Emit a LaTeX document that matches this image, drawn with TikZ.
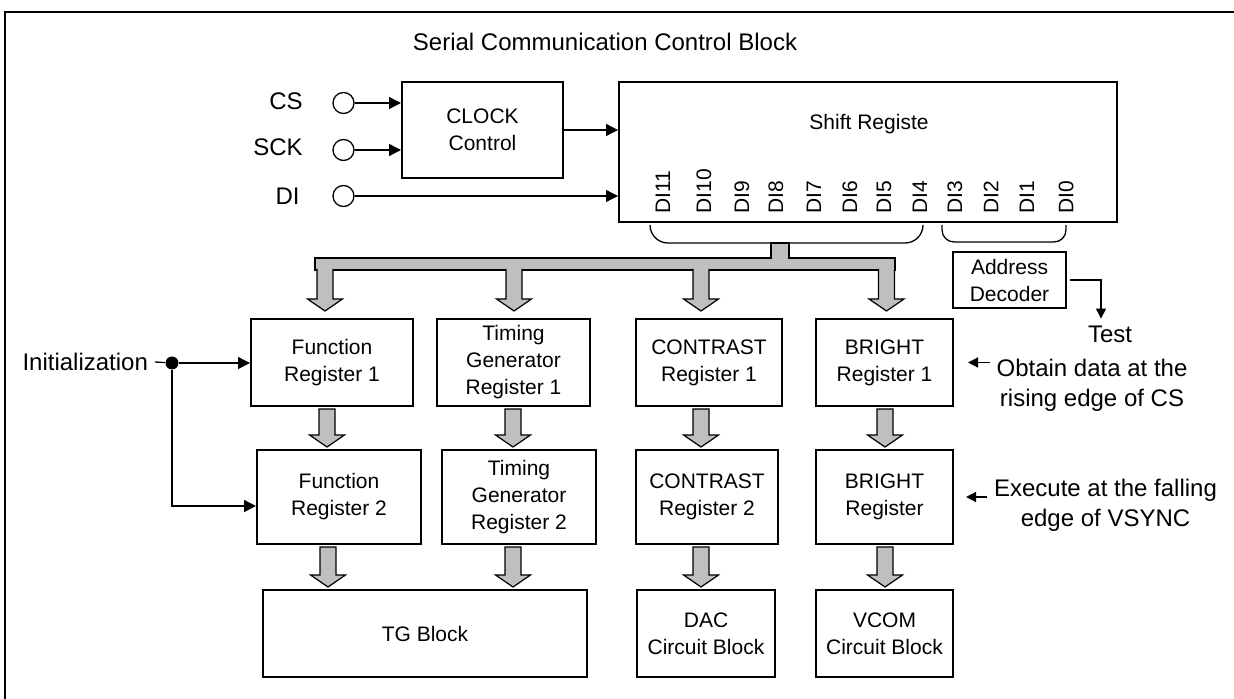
\documentclass[tikz,border=0pt]{standalone}
\usepackage{fontspec}
\setmainfont{Liberation Sans}
\usetikzlibrary{arrows.meta,calc}
\newcommand{\boxfont}{\fontsize{10.5}{13.5}\selectfont}
\newcommand{\sidefont}{\fontsize{12}{15}\selectfont}
\tikzset{blk/.style={draw, line width=1pt, align=center, font=\boxfont, inner sep=0pt},
    pinc/.style={draw, circle, line width=0.65pt, minimum size=10.5pt, inner sep=0pt},
    sig/.style={line width=0.65pt, -{Triangle[length=6pt, width=6pt]}},
    fat/.style={fill=black!25, draw=black, line width=0.6pt}
}
% open top: hangs from the bus
\newcommand{\busarrow}[2]{%
    \filldraw[fat] let \p1=#1, \p2=(#2.north) in
        (\x1-4pt,\y1) -- (\x1-4pt,\y2+9.5pt) -- (\x1-8.75pt,\y2+9.5pt) -- (\x1,\y2+3.5pt)
        -- (\x1+8.75pt,\y2+9.5pt) -- (\x1+4pt,\y2+9.5pt) -- (\x1+4pt,\y1);}
% closed: from box to box
\newcommand{\fatarrow}[2]{%
    \filldraw[fat] let \p1=#1, \p2=(#2.north) in
        (\x1-4pt,\y1) -- (\x1-4pt,\y2+7pt) -- (\x1-8.75pt,\y2+7pt) -- (\x1,\y2+1pt)
        -- (\x1+8.75pt,\y2+7pt) -- (\x1+4pt,\y2+7pt) -- (\x1+4pt,\y1) -- cycle;}

\begin{document}
\begin{tikzpicture}[x=0.5pt, y=-0.5pt]
    \useasboundingbox (0,0) rectangle (1234,699);
    \draw[line width=0.75pt] (5,12) rectangle (1240,706);

    \node[font=\sidefont] (title) at (605,42) {Serial Communication Control Block};

    % serial inputs
    \node[pinc] (cs) at (343.5,103) {};
    \node[pinc] (sck) at (343.5,150) {};
    \node[pinc] (di) at (343.5,196) {};
    \node[font=\sidefont, anchor=east, inner sep=0pt] (cslbl) at (303,101) {CS};
    \node[font=\sidefont, anchor=east, inner sep=0pt] (scklbl) at (303,147) {SCK};
    \node[font=\sidefont, anchor=east, inner sep=0pt] (dilbl) at (300,196) {DI};

    \node[blk, minimum width=80.5pt, minimum height=48pt] (clock) at (482.5,130) {CLOCK\\Control};
    \node[blk, minimum width=249pt, minimum height=70pt] (shift) at (868,152) {};
    \node[font=\boxfont] (shiftname) at (869,124) {Shift Registe};
    \foreach \x/\n in {663/11, 704/10, 742/9, 776/8, 814/7, 850/6, 884/5, 920/4, 955/3, 991/2, 1027/1, 1066/0}
        \node[font=\boxfont, rotate=90, anchor=west, inner sep=0pt] (di\n) at (\x,214) {DI\n};

    \draw[sig] (cs) -- (cs -| clock.west);
    \draw[sig] (sck) -- (sck -| clock.west);
    \draw[sig] (di) -- (di -| shift.west);
    \draw[sig] (clock.east) -- (clock.east -| shift.west);

    % bus
    \filldraw[fat] (315,258) -- (771,258) -- (771,243) -- (789,243) -- (789,258) -- (895,258) -- (895,270) -- (315,270) -- cycle;
    \draw[line width=0.65pt, rounded corners=9pt] (650,225) -- (650,243) -- (923,243) -- (923,225);
    \draw[line width=0.65pt, rounded corners=6pt] (942,225) -- (942,242) -- (1066,242) -- (1066,225);

    \node[blk, line width=0.8pt, minimum width=56.5pt, minimum height=28pt] (addr) at (1009.5,280) {Address\\Decoder};
    \node[font=\sidefont] (test) at (1110,334) {Test};
    \draw[line width=0.65pt, -{Triangle[length=5pt, width=5pt]}] ([xshift=1.5pt]addr.east) -| ([xshift=-4.5pt]test.north);

    % registers
    \node[blk, minimum width=81pt, minimum height=43.5pt] (fr1) at (332,362.5) {Function\\Register 1};
    \node[blk, minimum width=76.5pt, minimum height=43.5pt] (tg1) at (513.5,362.5) {Timing\\Generator\\Register 1};
    \node[blk, minimum width=73pt, minimum height=43.5pt] (cr1) at (709,362.5) {CONTRAST\\Register 1};
    \node[blk, minimum width=68.5pt, minimum height=43.5pt] (br1) at (884.5,362.5) {BRIGHT\\Register 1};

    \node[blk, minimum width=82pt, minimum height=47pt] (fr2) at (339,497) {Function\\Register 2};
    \node[blk, minimum width=77pt, minimum height=47pt] (tg2) at (519,497) {Timing\\Generator\\Register 2};
    \node[blk, minimum width=71pt, minimum height=47pt] (cr2) at (707,497) {CONTRAST\\Register 2};
    \node[blk, minimum width=68.5pt, minimum height=47pt] (br2) at (884.5,497) {BRIGHT\\Register};

    \node[blk, minimum width=162pt, minimum height=43.5pt] (tgb) at (425,633.5) {TG Block};
    \node[blk, minimum width=69pt, minimum height=43.5pt] (dac) at (706,633.5) {DAC\\Circuit Block};
    \node[blk, minimum width=68.5pt, minimum height=43.5pt] (vcom) at (884.5,633.5) {VCOM\\Circuit Block};

    \busarrow{(325,269)}{fr1}
    \busarrow{(514,269)}{tg1}
    \busarrow{(701,269)}{cr1}
    \busarrow{(886.5,269)}{br1}

    \fatarrow{(327,409)}{fr2}
    \fatarrow{(513,409)}{tg2}
    \fatarrow{(701,409)}{cr2}
    \fatarrow{(885,409)}{br2}
    \fatarrow{(328,547)}{tgb}
    \fatarrow{(513,547)}{tgb}
    \fatarrow{(701,547)}{dac}
    \fatarrow{(885,547)}{vcom}

    % initialization
    \node[font=\sidefont, anchor=east] (init) at (155,362) {Initialization};
    \node[circle, fill, inner sep=0pt, minimum size=6.5pt] (dot) at (172,363) {};
    \draw[line width=0.65pt] (init.east) -- (dot);
    \draw[sig] (dot) -- (dot -| fr1.west);
    \draw[sig] (dot) |- ([yshift=-4.5pt]fr2.west);

    % notes
    \node[font=\sidefont, align=center] (obtain) at (1092,385) {Obtain data at the\\rising edge of CS};
    \node[font=\sidefont, align=center] (execute) at (1105.5,505) {Execute at the falling\\edge of VSYNC};
    \draw[line width=0.65pt, -{Triangle[length=5pt, width=5pt]}, shorten >=7pt] (obtain.west |- br1.east) -- (br1.east);
    \draw[line width=0.65pt, -{Triangle[length=5pt, width=5pt]}, shorten >=6pt] (execute.west |- br2.east) -- (br2.east);
\end{tikzpicture}
\end{document}
